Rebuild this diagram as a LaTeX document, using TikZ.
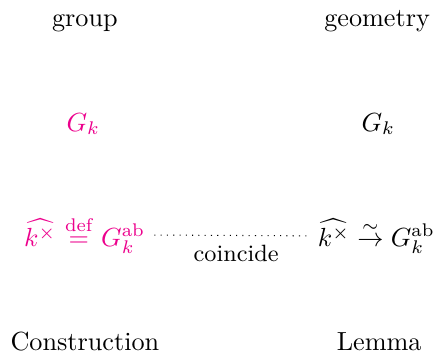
\documentclass[tikz,border=0pt]{standalone}
\usepackage{amsmath, amssymb}
\usepackage{xcolor}
\usepackage{tikz}
\usetikzlibrary{arrows.meta, positioning}

\begin{document}
\begin{tikzpicture}[
  lbl/.style={anchor=base, inner sep=3.33pt},
  hot/.style={lbl, text=magenta},
  link/.style={dotted, thin}
]
\useasboundingbox (0,0) rectangle (168.3pt,-137.4pt);

% headings
\node[lbl] (grp) at (32.4pt,-10.3pt)  {group};
\node[lbl] (geo) at (143.9pt,-10.3pt) {geometry};

% the groups
\node[hot] (gl) at (31.8pt,-50pt)  {$G_k$};
\node[lbl] (gr) at (144.4pt,-50pt) {$G_k$};

% the two sides
\node[hot] (cl) at (32.3pt,-93.9pt)
  {$\widehat{k^\times} \mkern1mu\overset{\text{def}}{=}\mkern1mu G_k^{\text{ab}}$};
\node[lbl] (cr) at (143.6pt,-93.9pt)
  {$\widehat{k^\times} \overset{\sim}{\to} G_k^{\text{ab}}$};
\draw[link] (cl) -- node[below, pos=0.53, font=\small]{coincide} (cr);

% sources
\node[lbl] (con) at (32.4pt,-133.6pt)  {Construction};
\node[lbl] (lem) at (144.7pt,-133.6pt) {Lemma};

\end{tikzpicture}
\end{document}
